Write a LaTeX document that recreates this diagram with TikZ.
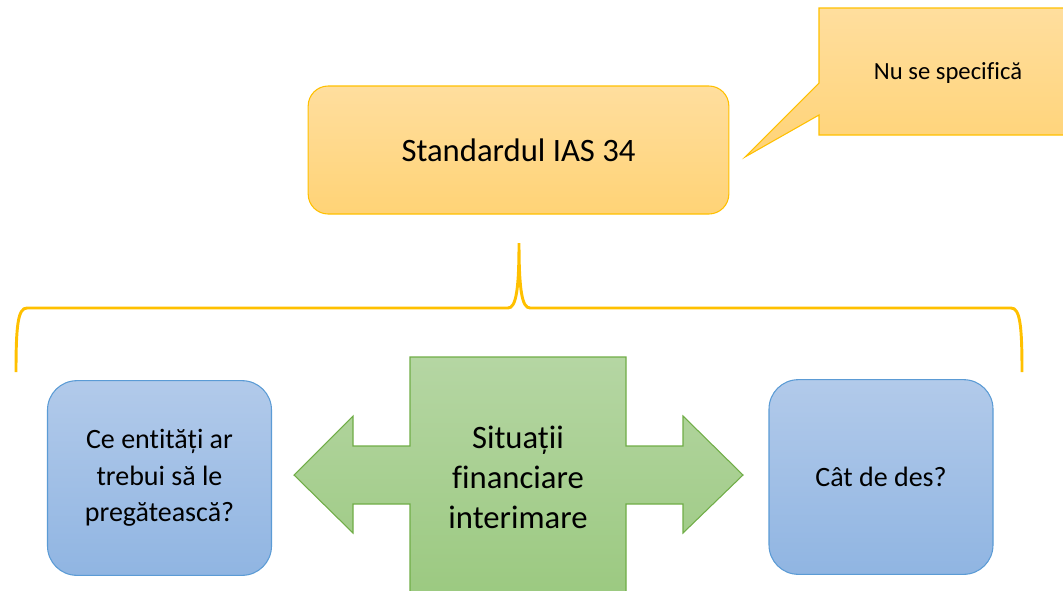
\documentclass[tikz,border=0pt]{standalone}
\usepackage{fontspec}
\setmainfont{Carlito}[Ligatures=NoCommon]
\definecolor{goldline}{HTML}{FFC000}
\definecolor{goldtop}{RGB}{255,222,158}
\definecolor{goldbot}{RGB}{255,211,118}
\definecolor{blueline}{HTML}{5B9BD5}
\definecolor{bluetop}{RGB}{178,202,234}
\definecolor{bluebot}{RGB}{144,181,226}
\definecolor{greenline}{HTML}{70AD47}
\definecolor{greentop}{RGB}{181,214,163}
\definecolor{greenbot}{RGB}{155,201,128}

\begin{document}
\begin{tikzpicture}[x=0.75pt,y=-0.75pt,
    goldbox/.style={draw=goldline, line width=0.8pt, top color=goldtop, bottom color=goldbot},
    bluebox/.style={draw=blueline, line width=0.8pt, top color=bluetop, bottom color=bluebot,
      rounded corners=22pt, minimum width=168pt, minimum height=146pt, align=center,
      font=\fontsize{21}{27.5}\selectfont},
    bigtext/.style={font=\fontsize{24.5}{30}\selectfont, align=center}]
	\useasboundingbox (0,0) rectangle (1063,590);
	% callout
	\path[goldbox] (819,8) -- (1075,8) -- (1075,135) -- (819,135) -- (819,115)
	  -- (745,157) -- (819,83) -- cycle;
	\node[font=\fontsize{18.5}{22}\selectfont] (note) at (948,73) {Nu se specifică};
	% standard box
	\node[goldbox, rounded corners=15pt, minimum width=315.5pt, minimum height=96pt, bigtext]
	  (std) at (518.5,150) {Standardul IAS 34};
	% brace
	\coordinate (tip) at (519,243);
	\draw[goldline, line width=2.2pt] (16,372) .. controls (16,325) and (18,308) .. (27,308)
	  -- (508,308) .. controls (516,308) and (519,290) .. (tip)
	  .. controls (519,290) and (522,308) .. (530,308) -- (1011,308)
	  .. controls (1020,308) and (1022,325) .. (1022,372);
	% double arrow
	\path[draw=greenline, line width=0.8pt, top color=greentop, bottom color=greenbot]
	  (410,357) -- (626,357) -- (626,446) -- (683,446) -- (683,416) -- (743,475)
	  -- (683,533) -- (683,504) -- (626,504) -- (626,600) -- (410,600) -- (410,504)
	  -- (353,504) -- (353,533) -- (294,475) -- (353,416) -- (353,446) -- (410,446) -- cycle;
	\node[bigtext] (sit) at (518,477) {Situații\\financiare\\interimare};
	% side boxes
	\node[bluebox] (who) at (159.5,478) {Ce entități ar\\trebui să le\\pregătească?};
	\node[bluebox] (often) at (881,477) {Cât de des?};
\end{tikzpicture}
\end{document}
